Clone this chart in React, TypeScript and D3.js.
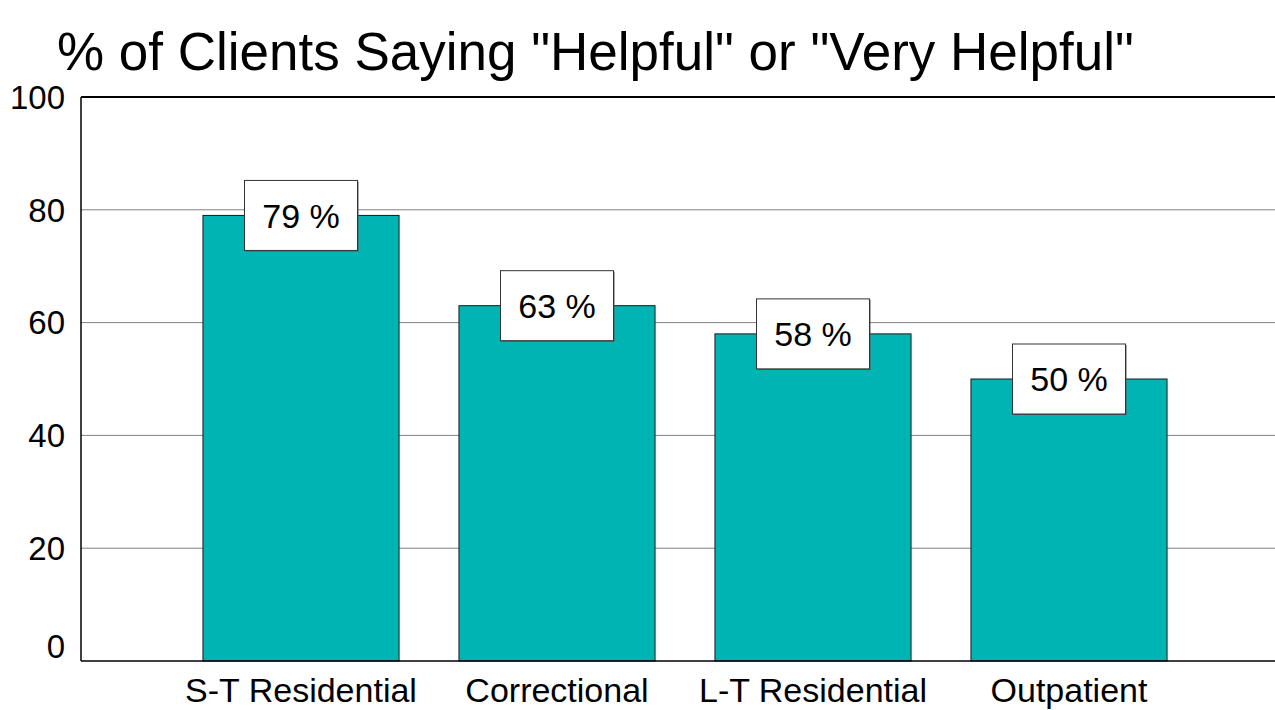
import * as d3 from "d3";

const categories = ["S-T Residential", "Correctional", "L-T Residential", "Outpatient"];
const values = [79, 63, 58, 50];
const yTicks = [0, 20, 40, 60, 80, 100];
const title = '% of Clients Saying "Helpful" or "Very Helpful"';

export default function App() {
  const width = 1275;
  const height = 710;
  const margin = { top: 97, right: 0, bottom: 49, left: 81 };
  const font = "'Liberation Sans', Arial, sans-serif";

  const yScale = d3
    .scaleLinear()
    .domain([0, 100])
    .range([height - margin.bottom, margin.top]);

  // bars sit in bands 256px wide, starting a little to the right of the axis
  const xScale = d3
    .scaleBand<string>()
    .domain(categories)
    .range([173, 1197])
    .paddingInner(0.234)
    .paddingOuter(0.117);

  const boxW = 113;
  const boxH = 70;

  return (
    <svg
      width={width}
      height={height}
      style={{ position: "absolute", left: 0, top: 0, background: "#fff" }}
      fontFamily={font}
    >
      <text x={57} y={70} fontSize={53} fill="#000">
        {title}
      </text>

      {/* gridlines */}
      {yTicks.slice(1, -1).map((t) => (
        <line
          key={t}
          x1={margin.left}
          x2={width}
          y1={yScale(t)}
          y2={yScale(t)}
          stroke="#808080"
          strokeWidth={1}
        />
      ))}
      {/* top border */}
      <line
        x1={margin.left}
        x2={width}
        y1={yScale(100)}
        y2={yScale(100)}
        stroke="#000"
        strokeWidth={2}
      />

      {/* bars */}
      {categories.map((c, i) => (
        <rect
          key={c}
          x={xScale(c)}
          y={yScale(values[i])}
          width={xScale.bandwidth()}
          height={yScale(0) - yScale(values[i])}
          fill="#00B4B4"
          stroke="#1a1a1a"
          strokeWidth={1}
        />
      ))}

      {/* axes */}
      <line
        x1={margin.left}
        x2={margin.left}
        y1={yScale(100)}
        y2={yScale(0)}
        stroke="#000"
        strokeWidth={1.5}
      />
      <line
        x1={margin.left}
        x2={width}
        y1={yScale(0)}
        y2={yScale(0)}
        stroke="#000"
        strokeWidth={1.5}
      />

      {/* y tick labels (the 0 label sits a bit above the baseline) */}
      {yTicks.map((t) => (
        <text
          key={t}
          x={65}
          y={yScale(t) - (t === 0 ? 15 : 0)}
          dy="0.36em"
          textAnchor="end"
          fontSize={33}
          fill="#000"
        >
          {t}
        </text>
      ))}

      {/* category labels */}
      {categories.map((c) => (
        <text
          key={c}
          x={(xScale(c) as number) + xScale.bandwidth() / 2}
          y={702}
          textAnchor="middle"
          fontSize={34}
          fill="#000"
        >
          {c}
        </text>
      ))}

      {/* value boxes */}
      {categories.map((c, i) => {
        const cx = (xScale(c) as number) + xScale.bandwidth() / 2;
        const cy = yScale(values[i]);
        return (
          <g key={c}>
            <rect
              x={cx - boxW / 2 + 1}
              y={cy - boxH / 2 + 1}
              width={boxW}
              height={boxH}
              fill="#555"
            />
            <rect
              x={cx - boxW / 2}
              y={cy - boxH / 2}
              width={boxW}
              height={boxH}
              fill="#fff"
              stroke="#333"
              strokeWidth={1}
            />
            <text
              x={cx}
              y={cy}
              dy="0.36em"
              textAnchor="middle"
              fontSize={34}
              fill="#000"
            >
              {values[i]} %
            </text>
          </g>
        );
      })}
    </svg>
  );
}
